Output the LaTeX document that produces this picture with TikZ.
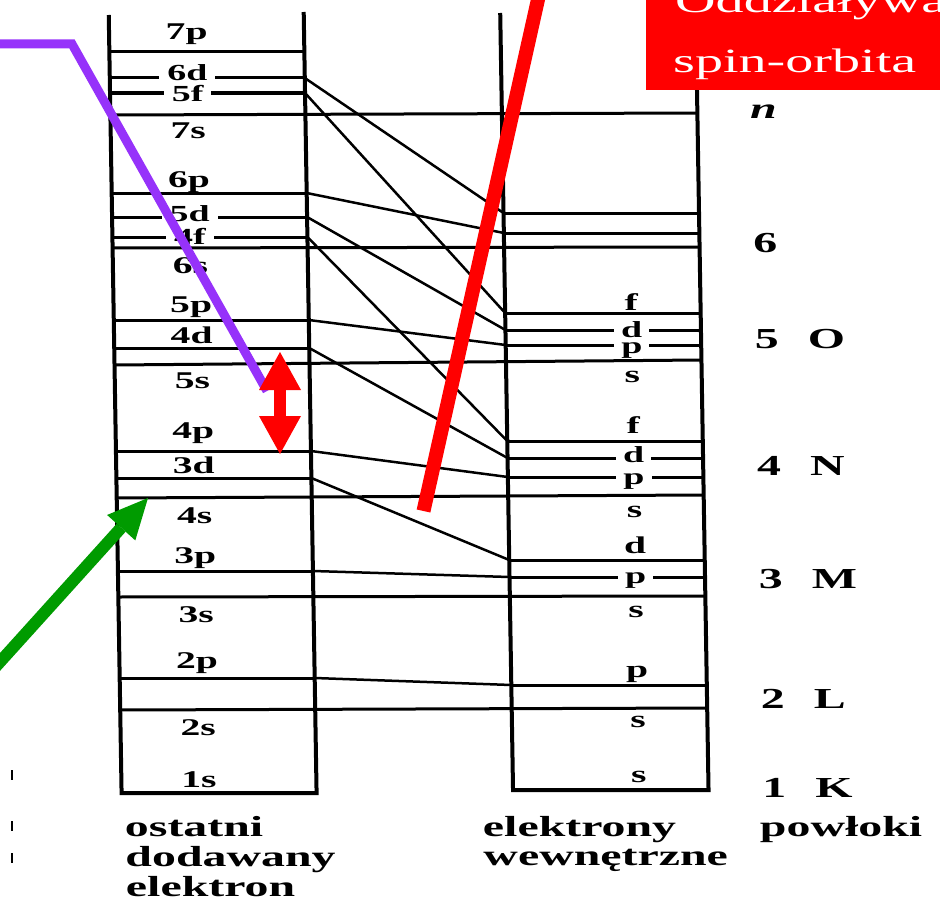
\documentclass[tikz,border=0pt]{standalone}
\usepackage{fontspec}
\newfontfamily\widefont{Liberation Serif}[FakeStretch=1.65]
\usetikzlibrary{arrows.meta}

\definecolor{violetline}{RGB}{150,50,250}
\definecolor{greenline}{RGB}{0,155,0}
\definecolor{redmark}{RGB}{255,0,0}

\begin{document}
\begin{tikzpicture}[x=1pt,y=-1pt,
  col/.style={line width=4pt},
  lev/.style={line width=3pt},
  link/.style={line width=2.5pt},
  lvl/.style={font=\widefont\bfseries\fontsize{24}{24}\selectfont,inner sep=0pt,anchor=base},
  lvlgap/.style={lvl,font=\widefont\bfseries\fontsize{23}{23}\selectfont,fill=white,inner xsep=8pt},
  shell/.style={font=\widefont\bfseries\fontsize{29}{29}\selectfont,inner sep=0pt,anchor=base west},
  caption/.style={font=\widefont\bfseries\fontsize{29}{29}\selectfont,inner sep=0pt,anchor=base west},
  boxtext/.style={font=\widefont\fontsize{34}{34}\selectfont,text=white,inner sep=0pt,anchor=base west},
]
\useasboundingbox (0,0) rectangle (940,907);
\clip (0,0) rectangle (940,907);

\begin{scope}[xslant=-0.0165]
% Columns
\draw[col] (108.5,15) -- (108.5,793) -- (303.5,793) -- (303.5,12);
\draw[col] (500,13) -- (500,790) -- (695.5,790) -- (695.5,60);

% Levels of the last added electron
\foreach \y in {52,78,93,193,217,237,320,348,451,478,571,678}
  \draw[lev] (108.5,\y) -- (303.5,\y);
% s levels running across both columns
\foreach \a/\b in {115/113,248/247,365/360,498/495,597/596,710/708}
  \draw[lev] (108.5,\a) -- (695.5,\b);
% Levels of the inner electrons
\foreach \y in {213,233,313,330,345,441,458,477,560,577,685}
  \draw[lev] (500,\y) -- (695.5,\y);

% Links between the columns
\foreach \a/\b in {78/213,93/313,193/233,217/330,237/441,320/345,348/458,451/477,478/560,571/577,678/685}
  \draw[link] (303.5,\a) -- (500,\b);

% Labels, left column
\foreach \t/\y [count=\i] in {7p/40,7s/138,6p/187,6s/273,5p/312,4d/343,5s/388,4p/438,3d/473,4s/523,3p/563,3s/622,2p/668,2s/735,1s/787}
  \node[lvl] (last\i) at (186,\y) {\t};
\foreach \t/\y [count=\i] in {6d/81,5f/101,5d/221,4f/244}
  \node[lvlgap] (lastgap\i) at (186,\y) {\t};

% Labels, right column
\foreach \t/\y [count=\i] in {f/310,s/382,f/433,s/517,d/553,s/617,p/677,s/727,s/782}
  \node[lvl] (inner\i) at (626,\y) {\t};
\foreach \t/\y [count=\i] in {d/337,p/353,d/462,p/484,p/583}
  \node[lvlgap,inner xsep=7pt] (innergap\i) at (626,\y) {\t};

% Shells
\node[shell,font=\widefont\bfseries\itshape\fontsize{29}{29}\selectfont] (nlab) at (748,118) {n};
\node[shell] (n6) at (749,252) {6};
\foreach \n/\s/\y in {5/O/348,4/N/475,3/M/588,2/L/708,1/K/797} {
  \node[shell] (n\n) at (749,\y) {\n};
  \node[shell] (s\s) at (802,\y) {\s};
}

% Captions
\node[caption] (capA) at (111,836) {ostatni};
\node[caption] (capB) at (111,866) {dodawany};
\node[caption] (capC) at (111,896) {elektron};
\node[caption] (capD) at (469,836) {elektrony};
\node[caption] (capE) at (469,865) {wewnętrzne};
\node[caption] (capF) at (746,836) {powłoki};
\end{scope}

% Scan marks at the left edge
\foreach \y in {775,826,858}
  \draw[line width=1.5pt] (12,\y-5) -- (12,\y+5);

% Spin-orbit box
\fill[redmark] (646,-10) rectangle (950,90);
\node[boxtext] (boxA) at (675,13) {Oddziaływanie};
\node[boxtext] (boxB) at (673,73) {spin-orbita};

% Marks drawn over the diagram
\coordinate (vA) at (-5,44);
\coordinate (vB) at (72,44);
\coordinate (vC) at (267,391);
\draw[violetline,line width=9pt] (vA) -- (vB) -- (vC);

\coordinate (dT) at (280,352);
\coordinate (dB) at (280,454);
\draw[redmark,line width=12pt,{Triangle[width=42pt,length=38pt,line width=0pt]}-{Triangle[width=42pt,length=38pt,line width=0pt]}] (dT) -- (dB);

\coordinate (rA) at (423.5,511);
\coordinate (rB) at (541,-14);
\draw[redmark,line width=14pt] (rA) -- (rB);

\coordinate (gA) at (-10,673);
\coordinate (gB) at (148,498);
\draw[greenline,line width=12pt,-{Triangle[width=38pt,length=40pt,line width=0pt]}] (gA) -- (gB);

\end{tikzpicture}
\end{document}
